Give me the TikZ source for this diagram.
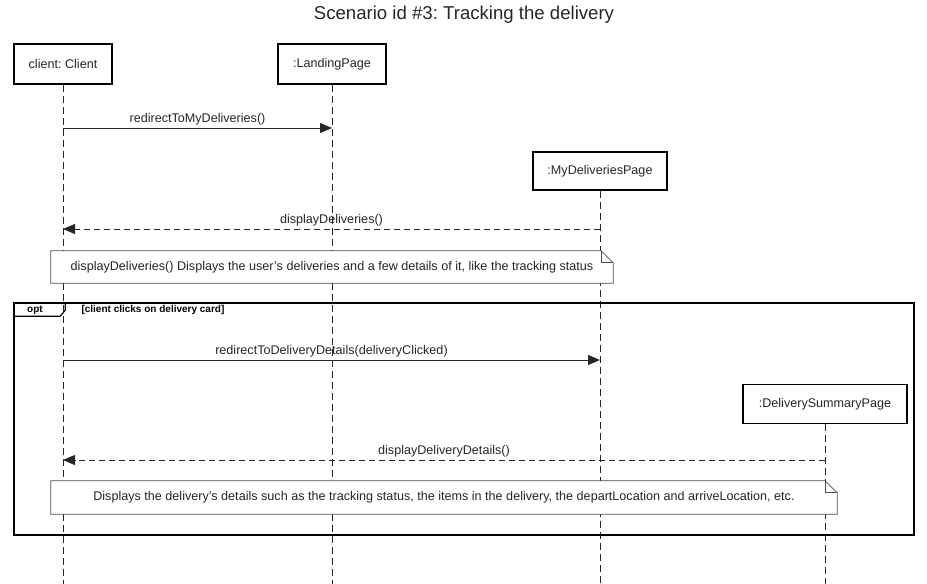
\documentclass[tikz,border=0pt]{standalone}
\usepackage{fontspec}
\setmainfont{Liberation Sans}
\frenchspacing
\usetikzlibrary{arrows.meta}
\begin{document}
\begin{tikzpicture}[
    x=1pt, y=-1pt,
    actor/.style={draw=black, line width=1.6pt, rectangle, minimum height=40pt, fill=white, font=\fontsize{12.6}{15}\selectfont, text=black!85},
    lifeline/.style={draw=black!85, line width=0.9pt, dash pattern=on 7pt off 4pt},
    call/.style={-{Triangle[length=12pt, width=10pt]}, line width=0.8pt, draw=black!85},
    reply/.style={-{Triangle[length=12pt, width=10pt]}, line width=0.8pt, draw=black!85, dash pattern=on 6pt off 4pt},
    msg/.style={font=\fontsize{12.6}{15}\selectfont, text=black!85, inner sep=2pt},
    notebox/.style={rectangle, fill=white, minimum height=32pt, font=\fontsize{12.6}{15}\selectfont, text=black!85},
    notefrm/.style={draw=black!70, line width=0.8pt}
]
\useasboundingbox (0,0) rectangle (927,584);
\node[font=\fontsize{18.6}{22}\selectfont, text=black!85] (title) at (464,15) {Scenario id \#3: Tracking the delivery};

% participants
\node[actor, minimum width=98pt] (client) at (63,64) {client: Client};
\node[actor, minimum width=108pt] (landing) at (332,64) {:LandingPage};
\node[actor, minimum width=134pt, minimum height=38pt] (mydel) at (600,171) {:MyDeliveriesPage};
\node[actor, minimum width=164pt, minimum height=39pt] (summary) at (825,404) {:DeliverySummaryPage};

\coordinate (clientEnd) at (63,584);
\coordinate (landingEnd) at (332,584);
\coordinate (mydelEnd) at (600,584);
\coordinate (summaryEnd) at (825,584);

\draw[lifeline] (client) -- (clientEnd);
\draw[lifeline] (landing) -- (landingEnd);
\draw[lifeline] (mydel) -- (mydelEnd);
\draw[lifeline] (summary) -- (summaryEnd);

% messages
\coordinate (m1a) at (63,128);
\coordinate (m1b) at (332,128);
\draw[call] (m1a) -- node[msg, above] {redirectToMyDeliveries()} (m1b);

\coordinate (m2a) at (600,229);
\coordinate (m2b) at (63,229);
\draw[reply] (m2a) -- node[msg, above] {displayDeliveries()} (m2b);

% first note
\node[notebox, minimum width=562pt] (note1) at (332,267) {displayDeliveries() Displays the user's deliveries and a few details of it, like the tracking status};
\draw[notefrm] (note1.north west) -- ([xshift=-12pt]note1.north east) -- ([yshift=-12pt]note1.north east) -- (note1.south east) -- (note1.south west) -- cycle;
\draw[notefrm] ([xshift=-12pt]note1.north east) -- ([xshift=-12pt, yshift=-12pt]note1.north east) -- ([yshift=-12pt]note1.north east);

% opt fragment
\node[draw=black, line width=1.6pt, rectangle, minimum width=900pt, minimum height=232pt] (optframe) at (464,419) {};
\draw[black, line width=1.2pt] ([xshift=52pt]optframe.north west) -- ([xshift=52pt, yshift=-8pt]optframe.north west) -- ([xshift=47pt, yshift=-14pt]optframe.north west) -- ([yshift=-14pt]optframe.north west);
\node[font=\bfseries\fontsize{10}{12}\selectfont] (optlbl) at (35,310) {opt};
\node[font=\bfseries\fontsize{10}{12}\selectfont, anchor=west] (guard) at (78,310) {[client clicks on delivery card]};

\coordinate (m3a) at (63,360);
\coordinate (m3b) at (600,360);
\draw[call] (m3a) -- node[msg, above] {redirectToDeliveryDetails(deliveryClicked)} (m3b);

\coordinate (m4a) at (825,460);
\coordinate (m4b) at (63,460);
\draw[reply] (m4a) -- node[msg, above] {displayDeliveryDetails()} (m4b);

% second note
\node[notebox, minimum width=786pt, minimum height=33pt] (note2) at (444,497.5) {Displays the delivery's details such as the tracking status, the items in the delivery, the departLocation and arriveLocation, etc.};
\draw[notefrm] (note2.north west) -- ([xshift=-12pt]note2.north east) -- ([yshift=-12pt]note2.north east) -- (note2.south east) -- (note2.south west) -- cycle;
\draw[notefrm] ([xshift=-12pt]note2.north east) -- ([xshift=-12pt, yshift=-12pt]note2.north east) -- ([yshift=-12pt]note2.north east);
\end{tikzpicture}
\end{document}
